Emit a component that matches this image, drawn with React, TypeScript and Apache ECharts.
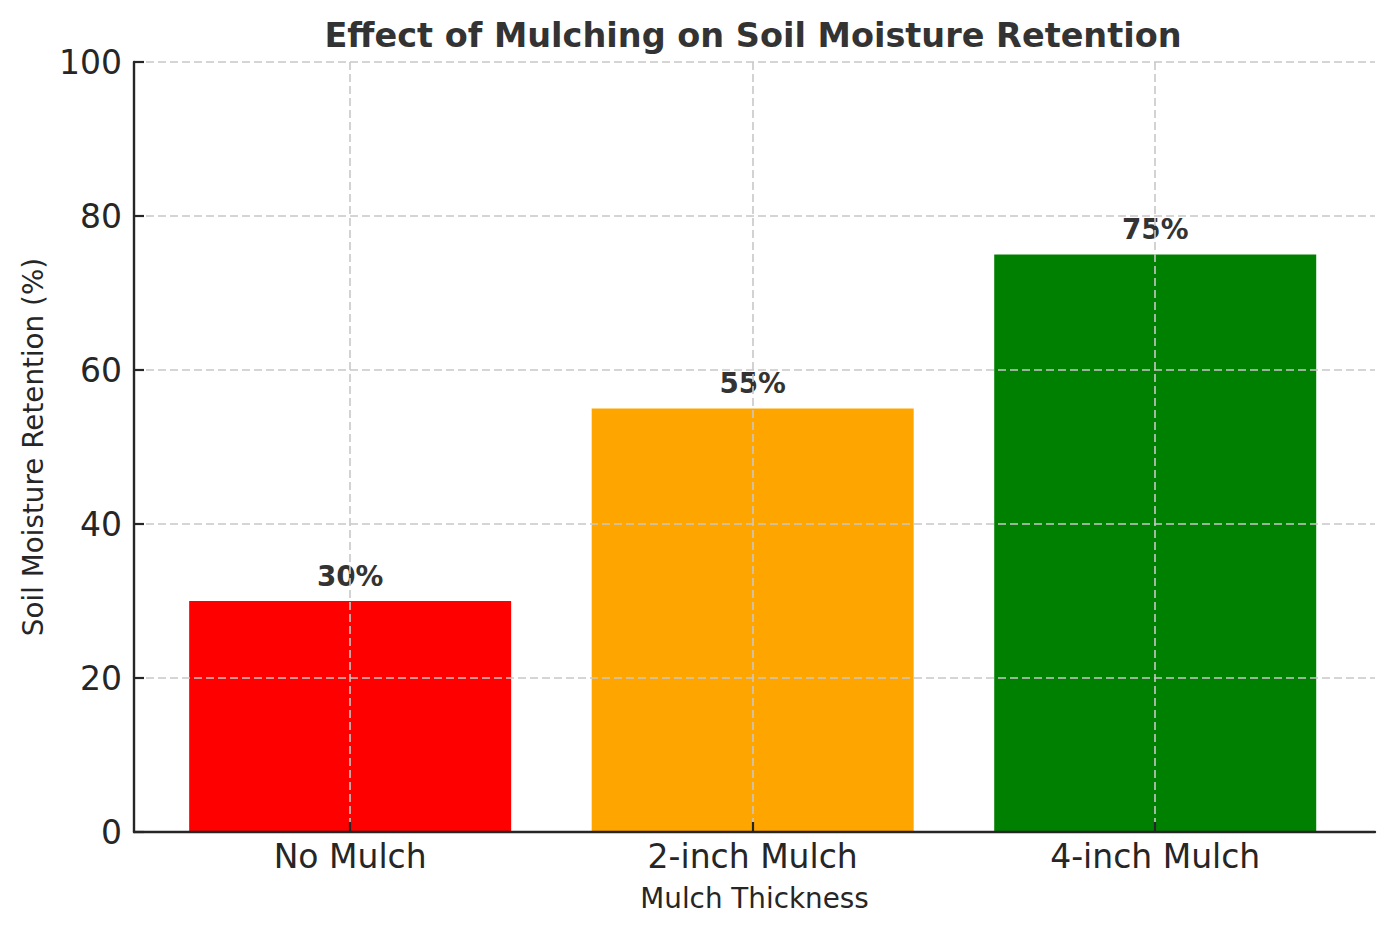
import React, { useEffect, useRef } from 'react';
import * as echarts from 'echarts';
import type { EChartsOption } from 'echarts';

const categories = ['No Mulch', '2-inch Mulch', '4-inch Mulch'];
const retention = [30, 55, 75];
const barColors = ['#ff0000', '#ffa500', '#008000'];
const yTicks = [0, 20, 40, 60, 80, 100];

const FONT = 'DejaVu Sans';
const INK = '#262626';
const GRID_LINE = { show: true, lineStyle: { color: '#c8c8c8', width: 1.6, type: [8, 4] as number[] } };

function buildOption(): EChartsOption {
  const positions = categories.map((_, i) => i);

  return {
    animation: false,
    backgroundColor: '#ffffff',
    textStyle: { fontFamily: FONT },
    title: {
      text: 'Effect of Mulching on Soil Moisture Retention',
      left: 748,
      top: 13,
      textAlign: 'center',
      textStyle: { fontFamily: FONT, fontSize: 33.5, fontWeight: 'bold', color: '#333333' },
    },
    grid: { left: 134, right: 17, top: 62, bottom: 102, containLabel: false },
    xAxis: {
      type: 'value',
      min: -0.537,
      max: 2.546,
      z: 3,
      name: 'Mulch Thickness',
      nameLocation: 'middle',
      nameGap: 52,
      nameTextStyle: { fontFamily: FONT, fontSize: 27.8, color: INK },
      axisLine: { show: true, onZero: false, lineStyle: { color: INK, width: 2.4 } },
      axisTick: { show: true, inside: true, length: 10, customValues: positions, lineStyle: { color: INK, width: 2.2 } },
      axisLabel: {
        show: true,
        customValues: positions,
        margin: 8,
        fontFamily: FONT,
        fontSize: 33,
        color: INK,
        formatter: (v: number) => categories[Math.round(v)] ?? '',
      },
      splitLine: GRID_LINE,
    },
    yAxis: {
      type: 'value',
      min: 0,
      max: 100,
      interval: 20,
      z: 3,
      name: 'Soil Moisture Retention (%)',
      nameLocation: 'middle',
      nameGap: 87,
      nameTextStyle: { fontFamily: FONT, fontSize: 27.8, color: INK },
      axisLine: { show: true, onZero: false, lineStyle: { color: INK, width: 2.4 } },
      axisTick: { show: true, inside: true, length: 10, lineStyle: { color: INK, width: 2.2 } },
      axisLabel: {
        margin: 12,
        fontFamily: FONT,
        fontSize: 33,
        color: INK,
        formatter: (v: number) => (yTicks.includes(v) ? String(v) : ''),
      },
      splitLine: GRID_LINE,
    },
    series: [
      {
        type: 'bar',
        barWidth: 322,
        z: 2,
        data: retention.map((v, i) => ({
          value: [positions[i], v],
          itemStyle: { color: barColors[i] },
        })),
        label: {
          show: true,
          position: 'top',
          distance: 11,
          fontFamily: FONT,
          fontSize: 27.8,
          fontWeight: 'bold',
          color: '#333333',
          formatter: (p: any) => `${p.value[1]}%`,
        },
        emphasis: { disabled: true },
        silent: true,
      },
    ],
  };
}

export default function App() {
  const containerRef = useRef<HTMLDivElement | null>(null);

  useEffect(() => {
    if (!containerRef.current) {
      return undefined;
    }
    const chart = echarts.init(containerRef.current, undefined, { renderer: 'svg' });
    chart.setOption(buildOption());
    return () => {
      chart.dispose();
    };
  }, []);

  return (
    <div
      ref={containerRef}
      style={{ position: 'fixed', left: 0, top: 0, width: 1392, height: 934, background: '#ffffff' }}
    />
  );
}
